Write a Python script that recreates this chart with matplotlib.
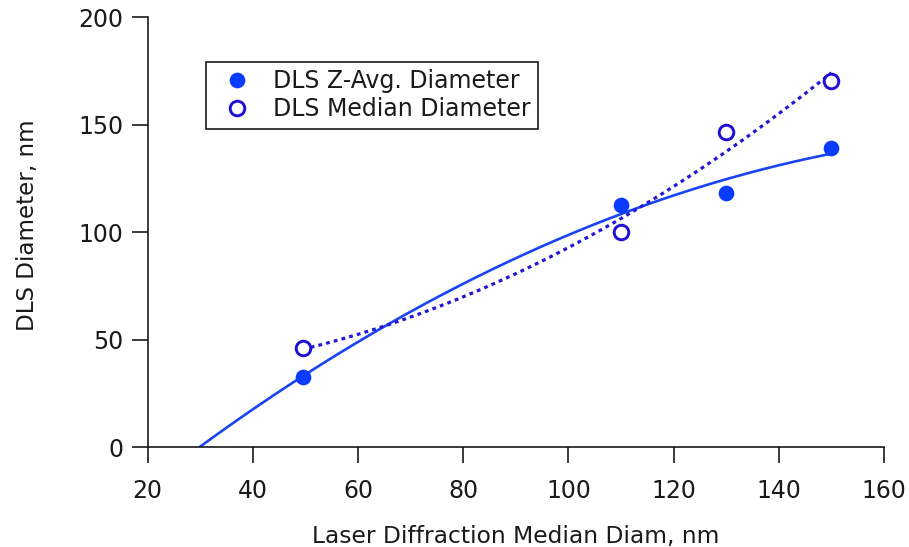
import numpy as np
import matplotlib
matplotlib.use("Agg")
import matplotlib.pyplot as plt
from matplotlib.lines import Line2D

# Laser diffraction median diameter (nm) vs. DLS diameters (nm)
laser_median = [49.5, 110, 130, 150]
dls_zavg = [32.7, 112.7, 118.4, 139.1]
dls_median = [46.2, 100.3, 146.8, 170.5]

x_ticks = [20, 40, 60, 80, 100, 120, 140, 160]
y_ticks = [0, 50, 100, 150, 200]

c_filled = "#0a3cff"
c_open = "#1f0fd2"
c_fit = "#1a44f2"
c_dot = "#2418d6"
c_text = "#1a1a1a"

plt.rcParams["font.family"] = ["DejaVu Sans"]

fig = plt.figure(figsize=(9.09, 5.47), dpi=100)
ax = fig.add_axes([0.1625, 0.1823, 0.81, 0.786])

x = np.array(laser_median, dtype=float)

# quadratic fit of the Z-average diameters, drawn from its zero crossing to the last point
pz = np.polyfit(x, dls_zavg, 2)
roots = np.roots(pz)
roots = roots[np.isreal(roots)].real
x0 = roots[(roots > 0) & (roots < x.min())].max()
xs = np.linspace(x0, x.max(), 300)
ax.plot(xs, np.polyval(pz, xs), color=c_fit, lw=1.9, solid_capstyle="butt", zorder=2)

# quadratic fit of the median diameters over the data range
pm = np.polyfit(x, dls_median, 2)
xm = np.linspace(x.min(), x.max(), 300)
ax.plot(xm, np.polyval(pm, xm), color=c_dot, lw=2.3, linestyle=(0, (1.2, 1.3)),
        dash_capstyle="butt", zorder=2)

ax.plot(x, dls_zavg, linestyle="none", marker="o", ms=11.3, mfc=c_filled,
        mec=c_filled, mew=0, zorder=3)
ax.plot(x, dls_median, linestyle="none", marker="o", ms=10.5, mfc="white",
        mec=c_open, mew=2.1, zorder=3)

ax.set_xlim(20, 160)
ax.set_ylim(0, 200)
ax.set_xticks(x_ticks)
ax.set_yticks(y_ticks)
ax.tick_params(axis="both", direction="out", length=11.5, width=1.2,
               labelsize=17, colors=c_text)
ax.tick_params(axis="x", pad=11)
ax.tick_params(axis="y", pad=6)
for side in ("top", "right"):
    ax.spines[side].set_visible(False)
for side in ("left", "bottom"):
    ax.spines[side].set_linewidth(1.2)
    ax.spines[side].set_color(c_text)

ax.set_xlabel("Laser Diffraction Median Diam, nm", fontsize=16.8, color=c_text)
ax.xaxis.set_label_coords(0.5, -0.18)
ax.set_ylabel("DLS Diameter, nm", fontsize=16.6, color=c_text, va="center")
ax.yaxis.set_label_coords(-0.163, 0.516)

handles = [
    Line2D([], [], linestyle="none", marker="o", ms=11.3, mfc=c_filled, mec=c_filled, mew=0),
    Line2D([], [], linestyle="none", marker="o", ms=10.5, mfc="white", mec=c_open, mew=2.1),
]
leg = ax.legend(handles, ["DLS Z-Avg. Diameter", "DLS Median Diameter"],
                loc="upper left", bbox_to_anchor=(0.079, 0.897), borderaxespad=0,
                fontsize=17, frameon=True, fancybox=False, framealpha=1,
                edgecolor=c_text, handlelength=1.99, handletextpad=0.53,
                borderpad=0.32, labelspacing=0.17)
leg.get_frame().set_linewidth(1.2)
for t in leg.get_texts():
    t.set_color(c_text)

fig.savefig("out.png", dpi=100)
